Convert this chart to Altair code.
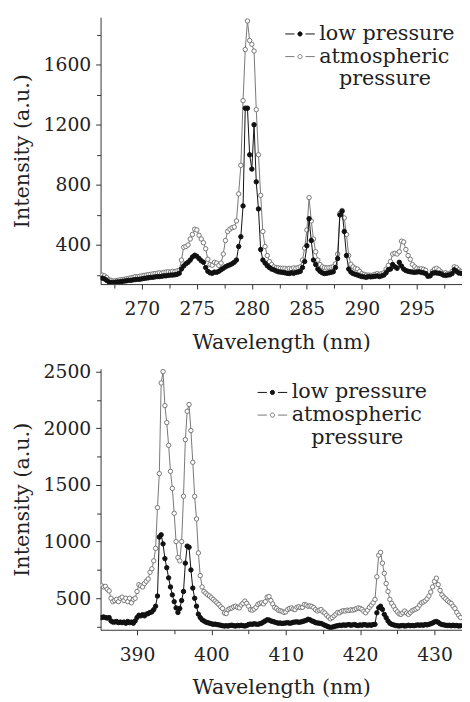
import altair as alt
import pandas as pd

FONT = "DejaVu Serif"
LOW = "low pressure"
ATM = "atmospheric pressure"
INDENT = "\u200b" + "\u00a0" * 3

# ---------------- top panel (wavelength grid 266.4 .. 299.0 nm, 0.2 nm) ----------------
top_start, top_step = 266.4, 0.2
top_low = [
    180, 175, 165,                 # 266.4-266.8
    155, 150, 150, 152, 155,       # 267
    155, 158, 160, 162, 165,       # 268
    165, 168, 170, 172, 172,       # 269
    175, 178, 180, 182, 185,       # 270
    185, 188, 190, 190, 192,       # 271
    195, 195, 198, 200, 200,       # 272
    202, 205, 212, 240, 260,       # 273
    275, 285, 300, 320, 332,       # 274
    325, 310, 295, 285, 250,       # 275
    225, 215, 212, 220, 218,       # 276
    225, 235, 245, 255, 262,       # 277
    268, 275, 285, 300, 390,       # 278
    455, 660, 1310, 1310, 1000,    # 279
    905, 1200, 820, 640, 370,      # 280
    300, 280, 262, 250, 240,       # 281
    235, 228, 222, 220, 218,       # 282
    215, 212, 210, 215, 212,       # 283
    218, 220, 225, 250, 290,       # 284
    395, 575, 430, 300, 270,       # 285
    240, 225, 215, 210, 212,       # 286
    215, 218, 222, 250, 310,       # 287
    600, 625, 490, 330, 240,       # 288
    220, 210, 205, 200, 195,       # 289
    190, 188, 185, 190, 188,       # 290
    190, 192, 195, 190, 195,       # 291
    200, 215, 235, 240, 270,       # 292
    255, 245, 285, 260, 240,       # 293
    230, 225, 222, 220, 218,       # 294
    220, 222, 218, 215, 210,       # 295
    192, 195, 212, 215, 214,       # 296
    212, 208, 200, 198, 200,       # 297
    202, 210, 235, 225, 214,       # 298
    212,                           # 299
]
top_atm = [
    200, 195, 185,                 # 266.4-266.8
    170, 165, 160, 162, 165,       # 267
    168, 170, 172, 175, 178,       # 268
    182, 185, 190, 188, 192,       # 269
    195, 198, 200, 203, 205,       # 270
    208, 210, 212, 215, 212,       # 271
    218, 220, 222, 220, 225,       # 272
    223, 228, 232, 300, 385,       # 273
    390, 400, 440, 470, 505,       # 274
    500, 465, 440, 415, 375,       # 275
    305, 270, 265, 285, 280,       # 276
    265, 280, 340, 430, 490,       # 277
    505, 515, 520, 560, 740,       # 278
    930, 1360, 1700, 1890, 1760,   # 279
    1735, 1690, 1300, 1000, 730,   # 280
    490, 390, 330, 290, 270,       # 281
    255, 250, 248, 245, 245,       # 282
    245, 240, 245, 242, 248,       # 283
    245, 250, 255, 300, 380,       # 284
    500, 715, 560, 440, 355,       # 285
    300, 270, 255, 250, 248,       # 286
    250, 252, 255, 275, 340,       # 287
    610, 630, 580, 470, 330,       # 288
    272, 255, 245, 240, 225,       # 289
    210, 205, 200, 200, 198,       # 290
    200, 205, 210, 205, 210,       # 291
    215, 240, 265, 290, 340,       # 292
    345, 340, 355, 425, 420,       # 293
    370, 330, 305, 270, 255,       # 294
    245, 240, 242, 238, 232,       # 295
    200, 195, 225, 240, 245,       # 296
    235, 220, 212, 215, 210,       # 297
    212, 225, 255, 250, 235,       # 298
    225,                           # 299
]

# ---------------- bottom panel (wavelength grid 385.25 .. 433.5 nm, 0.25 nm) ----------------
bot_start, bot_step = 385.25, 0.25
bot_low = [
    330, 335, 330,                 # 385.25-385.75
    325, 330, 300, 290,            # 386
    290, 295, 285, 290,            # 387
    285, 290, 280, 295,            # 388
    285, 290, 280, 300,            # 389
    330, 350, 345, 355,            # 390
    345, 360, 365, 375,            # 391
    380, 400, 430, 520,            # 392
    1040, 1060, 980, 850,          # 393
    770, 680, 600, 530,            # 394
    470, 415, 375, 410,            # 395
    480, 560, 810, 960,            # 396
    950, 750, 590, 500,            # 397
    430, 360, 330, 310,            # 398
    300, 290, 285, 280,            # 399
    275, 270, 272, 268,            # 400
    265, 262, 258, 255,            # 401
    258, 255, 260, 262,            # 402
    258, 255, 260, 258,            # 403
    262, 258, 255, 260,            # 404
    268, 272, 270, 275,            # 405
    272, 270, 275, 280,            # 406
    290, 300, 310, 308,            # 407
    300, 295, 290, 285,            # 408
    280, 282, 278, 280,            # 409
    282, 285, 280, 282,            # 410
    288, 290, 292, 288,            # 411
    290, 295, 300, 305,            # 412
    315, 310, 300, 295,            # 413
    285, 282, 280, 278,            # 414
    270, 262, 255, 248,            # 415
    242, 245, 250, 255,            # 416
    258, 262, 260, 265,            # 417
    262, 265, 268, 262,            # 418
    265, 268, 262, 260,            # 419
    265, 262, 268, 265,            # 420
    262, 265, 262, 268,            # 421
    270, 372, 416, 430,            # 422
    402, 358, 329, 300,            # 423
    280, 270, 265, 260,            # 424
    258, 255, 258, 260,            # 425
    255, 258, 262, 258,            # 426
    260, 258, 262, 265,            # 427
    262, 265, 262, 268,            # 428
    265, 270, 275, 282,            # 429
    291, 295, 288, 275,            # 430
    268, 265, 262, 260,            # 431
    262, 258, 262, 258,            # 432
    260, 255, 258,                 # 433
]
bot_atm = [
    610, 600, 605,                 # 385.25-385.75
    580, 565, 500, 470,            # 386
    480, 490, 470, 500,            # 387
    510, 480, 500, 470,            # 388
    500, 460, 490, 500,            # 389
    560, 620, 610, 600,            # 390
    630, 650, 670, 730,            # 391
    760, 830, 940, 1300,           # 392
    1600, 2400, 2500, 2200,        # 393
    2050, 1850, 1620, 1470,        # 394
    1250, 1000, 860, 830,          # 395
    1000, 1400, 1900, 2150,        # 396
    2210, 1980, 1700, 1400,        # 397
    1200, 900, 700, 600,           # 398
    560, 545, 530, 520,            # 399
    505, 490, 475, 460,            # 400
    445, 425, 410, 370,            # 401
    365, 400, 410, 415,            # 402
    425, 430, 420, 415,            # 403
    440, 455, 475, 455,            # 404
    430, 400, 395, 405,            # 405
    420, 445, 455, 460,            # 406
    450, 470, 510, 515,            # 407
    480, 450, 420, 410,            # 408
    395, 390, 385, 375,            # 409
    380, 400, 410, 415,            # 410
    405, 400, 420, 425,            # 411
    418, 420, 445, 440,            # 412
    430, 432, 428, 418,            # 413
    400, 388, 395, 400,            # 414
    380, 370, 350, 335,            # 415
    318, 330, 345, 360,            # 416
    375, 372, 385, 390,            # 417
    388, 395, 392, 398,            # 418
    395, 400, 408, 415,            # 419
    410, 402, 385, 372,            # 420
    395, 420, 440, 460,            # 421
    490, 690, 880, 905,            # 422
    810, 720, 630, 560,            # 423
    490, 455, 430, 400,            # 424
    380, 362, 358, 372,            # 425
    387, 370, 358, 375,            # 426
    390, 398, 405, 415,            # 427
    440, 460, 468, 478,            # 428
    495, 520, 555, 600,            # 429
    648, 677, 620, 570,            # 430
    530, 510, 495, 478,            # 431
    465, 455, 430, 410,            # 432
    375, 350, 330,                 # 433
]

top_xmajor = [270, 275, 280, 285, 290, 295]
top_xminor = [267.5, 272.5, 277.5, 282.5, 287.5, 292.5, 297.5]
top_ymajor = [400, 800, 1200, 1600]
top_yminor = [200, 600, 1000, 1400, 1800]
bot_xmajor = [390, 400, 410, 420, 430]
bot_xminor = [395, 405, 415, 425]
bot_ymajor = [500, 1000, 1500, 2000, 2500]
bot_yminor = [250, 750, 1250, 1750, 2250]


def frame(start, step, low, atm):
    rows = []
    # atmospheric first so that low pressure is drawn on top
    for name, vals in ((ATM, atm), (LOW, low)):
        for i, v in enumerate(vals):
            rows.append({"wl": round(start + step * i, 3), "I": v, "series": name})
    return pd.DataFrame(rows)


# legend glyph "-o-": two dashes and a small circle
LEG_PATH = ("M-1.2,0H-0.45M0.45,0H1.2"
            "M0.17,0A0.17,0.17,0,1,1,-0.17,0A0.17,0.17,0,1,1,0.17,0Z")


def panel(df, xdom, ydom, xmaj, xmin, ymaj, ymin, w, h, legx, legy):
    legend = alt.Legend(
        title=None, orient="none", legendX=legx, legendY=legy,
        symbolType=LEG_PATH, symbolSize=625, symbolStrokeWidth=1,
        labelFont=FONT, labelFontSize=21, labelColor="#222",
        labelOffset=6.5, rowPadding=0, padding=0,
        labelExpr=("datum.label == '" + ATM + "' ? ['atmospheric', '"
                   + INDENT + "pressure'] : datum.label"),
    )
    xmaj_s = ",".join(str(v) for v in xmaj)
    ymaj_s = ",".join(str(v) for v in ymaj)
    x = alt.X(
        "wl:Q",
        scale=alt.Scale(domain=xdom, nice=False, zero=False),
        axis=alt.Axis(
            values=sorted(xmaj + xmin), title="Wavelength (nm)", format="d",
            labelExpr="indexof([" + xmaj_s + "], datum.value) >= 0 ? datum.label : ''",
            tickSize={"condition": {"test": "indexof([" + xmaj_s + "], datum.value) >= 0",
                                    "value": 5}, "value": 4},
            labelPadding=11, titlePadding=13,
        ),
    )
    y = alt.Y(
        "I:Q",
        scale=alt.Scale(domain=ydom, nice=False, zero=False),
        axis=alt.Axis(
            values=sorted(ymaj + ymin), title="Intensity (a.u.)", format="d",
            labelExpr="indexof([" + ymaj_s + "], datum.value) >= 0 ? datum.label : ''",
            tickSize={"condition": {"test": "indexof([" + ymaj_s + "], datum.value) >= 0",
                                    "value": 5}, "value": 4},
            labelPadding=5, titlePadding=11, minExtent=58, maxExtent=58,
        ),
    )
    base = alt.Chart(df)
    line_atm = base.transform_filter(alt.datum.series == ATM).mark_line(
        stroke="#777777", strokeWidth=1, clip=True).encode(x=x, y=y)
    line_low = base.transform_filter(alt.datum.series == LOW).mark_line(
        stroke="#111111", strokeWidth=1, clip=True).encode(x=x, y=y)

    def pts(name):
        return base.transform_filter(alt.datum.series == name).mark_point(
            shape="circle", size=20, strokeWidth=1, opacity=1, fillOpacity=1,
            clip=True).encode(
            x=x, y=y,
            fill=alt.Fill("series:N", scale=alt.Scale(domain=[LOW, ATM],
                                                      range=["#111111", "#ffffff"]),
                          legend=legend),
            stroke=alt.Stroke("series:N", scale=alt.Scale(domain=[LOW, ATM],
                                                          range=["#111111", "#777777"]),
                              legend=legend),
        )

    return alt.layer(line_atm, pts(ATM), line_low, pts(LOW)).properties(width=w, height=h)


top = panel(frame(top_start, top_step, top_low, top_atm), [266.25, 299.1], [140, 1915],
            top_xmajor, top_xminor, top_ymajor, top_yminor, 367, 271, 189.5, 4)
bot = panel(frame(bot_start, bot_step, bot_low, bot_atm), [385.1, 433.7], [222, 2525],
            bot_xmajor, bot_xminor, bot_ymajor, bot_yminor, 367, 265, 161.5, 11)

chart = alt.vconcat(top, bot, spacing=10).resolve_scale(
    fill="independent", stroke="independent"
).resolve_legend(fill="independent", stroke="independent").properties(
    padding={"left": 4, "top": 4, "right": 0, "bottom": 0}
).configure_view(stroke=None).configure_axis(
    labelFont=FONT, labelFontSize=19, labelColor="#222",
    titleFont=FONT, titleFontSize=21, titleFontWeight="normal", titleColor="#222",
    domainColor="#333", tickColor="#333", domainWidth=1, tickWidth=1,
    grid=False, labelFlush=False, labelOverlap=False,
)

chart.save("out.html", embed_options={"renderer": "svg", "actions": False})
